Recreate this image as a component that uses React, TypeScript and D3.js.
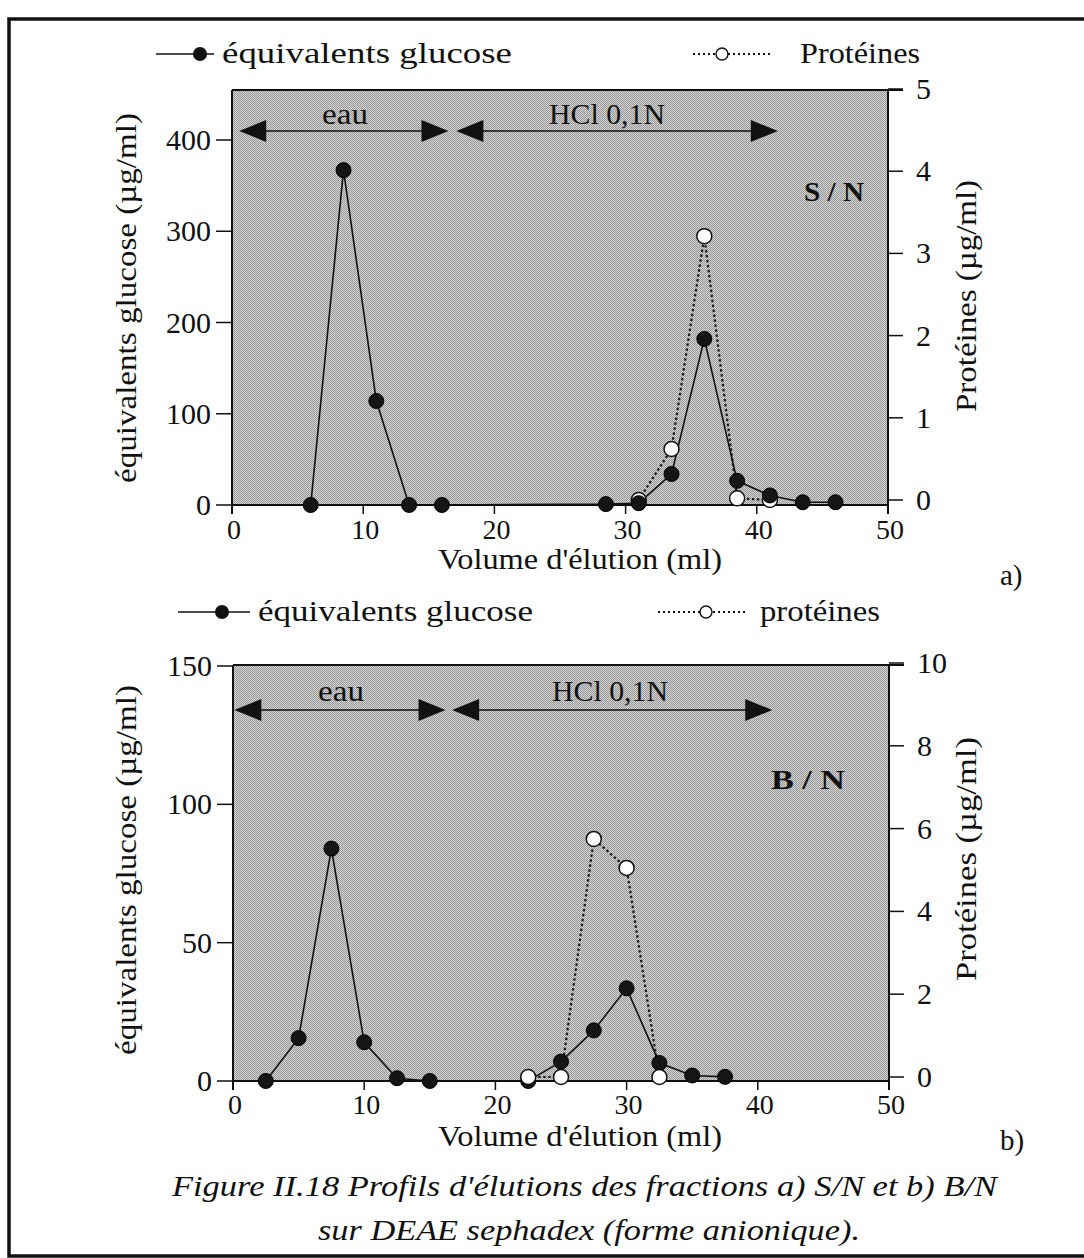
import React from 'react';
import * as d3 from 'd3';

// ---------- data ----------
const xTickValues = [0, 10, 20, 30, 40, 50];

// Panel a) S/N
const volumeGlucoseA = [6, 8.5, 11, 13.5, 16, 28.5, 31, 33.5, 36, 38.5, 41, 43.5, 46];
const glucoseA = [0, 367, 114, 0, 0, 1, 2, 34, 182, 26.5, 10.5, 3, 3];
const volumeProteinA = [31, 33.5, 36, 38.5, 41];
const proteinA = [0, 0.62, 3.21, 0.02, 0];
const glucoseTicksA = [0, 100, 200, 300, 400];
const proteinTicksA = [0, 1, 2, 3, 4, 5];
const eauRangeA = [0.55, 16.5];
const hclRangeA = [17.1, 41.6];

// Panel b) B/N
const volumeGlucoseB = [2.5, 5, 7.5, 10, 12.5, 15, 22.5, 25, 27.5, 30, 32.5, 35, 37.5];
const glucoseB = [0, 15.5, 84, 14, 1, 0, 0, 7, 18.3, 33.5, 6.5, 2, 1.5];
const volumeProteinB = [22.5, 25, 27.5, 30, 32.5];
const proteinB = [0, 0, 5.75, 5.05, 0];
const glucoseTicksB = [0, 50, 100, 150];
const proteinTicksB = [0, 2, 4, 6, 8, 10];
const eauRangeB = [0.1, 16.2];
const hclRangeB = [16.7, 41.1];

const FONT = 'Liberation Serif, Tinos, Times New Roman, Times, serif';

type PanelCfg = {
  x0: number; x1: number; top: number; bottom: number;
  leftMax: number; leftMaxPx: number;
  rightMax: number; rightZeroPx: number; rightMaxPx: number;
  vg: number[]; g: number[]; vp: number[]; p: number[];
  gTicks: number[]; pTicks: number[];
  eau: number[]; hcl: number[];
  arrowY: number; labelY: number; eauX: number; hclX: number;
  tag: string; tagX: number; tagY: number; tagW: number;
  openOnTop: boolean;
  letter: string; letterY: number;
  xLabelY: number; xTickLabelY: number;
  leftLabelCY: number; rightLabelCY: number; rightLabelW: number;
};

const txt = { fontFamily: FONT, fill: '#111' } as const;

function Arrow({ x1, x2, y }: { x1: number; x2: number; y: number }) {
  const L = 27, H = 11;
  return (
    <g>
      <line x1={x1 + 5} x2={x2 - 5} y1={y} y2={y} stroke="#111" strokeWidth={1.6} />
      <path d={`M${x1},${y} L${x1 + L},${y - H} L${x1 + L},${y + H} Z`} fill="#111" />
      <path d={`M${x2},${y} L${x2 - L},${y - H} L${x2 - L},${y + H} Z`} fill="#111" />
    </g>
  );
}

function Panel({ c }: { c: PanelCfg }) {
  const x = d3.scaleLinear().domain([0, 50]).range([c.x0, c.x1]);
  const yL = d3.scaleLinear().domain([0, c.leftMax]).range([c.bottom, c.leftMaxPx]);
  const yR = d3.scaleLinear().domain([0, c.rightMax]).range([c.rightZeroPx, c.rightMaxPx]);

  const gPts = c.vg.map((v, i) => [x(v), yL(c.g[i])] as [number, number]);
  const pPts = c.vp.map((v, i) => [x(v), yR(c.p[i])] as [number, number]);
  const line = d3.line();

  const filled = gPts.map((d, i) => (
    <circle key={'f' + i} cx={d[0]} cy={d[1]} r={7.5} fill="#151515" stroke="#000" strokeWidth={1} />
  ));
  const open = pPts.map((d, i) => (
    <circle key={'o' + i} cx={d[0]} cy={d[1]} r={7.5} fill="#fff" stroke="#111" strokeWidth={1.5} />
  ));

  return (
    <g>
      <rect x={c.x0} y={c.top} width={c.x1 - c.x0} height={c.bottom - c.top} fill="url(#stipple)" />
      <line x1={c.x0} x2={c.x1 + 15} y1={c.top} y2={c.top} stroke="#111" strokeWidth={2} />
      <line x1={c.x0} x2={c.x1} y1={c.bottom} y2={c.bottom} stroke="#111" strokeWidth={2} />
      <line x1={c.x0} x2={c.x0} y1={c.top} y2={c.bottom + 9} stroke="#111" strokeWidth={2} />
      <line x1={c.x1} x2={c.x1} y1={c.top} y2={c.bottom + 9} stroke="#111" strokeWidth={2} />
      {xTickValues.map((t) => (
        <g key={'xt' + t}>
          <line x1={x(t)} x2={x(t)} y1={c.bottom} y2={c.bottom + 9} stroke="#111" strokeWidth={1.5} />
          <text x={x(t) + 2} y={c.xTickLabelY} textAnchor="middle" fontSize={28} {...txt}>{t}</text>
        </g>
      ))}
      {c.gTicks.map((t) => (
        <g key={'lt' + t}>
          <line x1={c.x0 - 16} x2={c.x0} y1={yL(t)} y2={yL(t)} stroke="#111" strokeWidth={1.5} />
          <text x={c.x0 - 21} y={yL(t) + 10} textAnchor="end" fontSize={30} {...txt}>{t}</text>
        </g>
      ))}
      {c.pTicks.map((t) => (
        <g key={'rt' + t}>
          <line x1={c.x1} x2={c.x1 + 15} y1={yR(t)} y2={yR(t)} stroke="#111" strokeWidth={1.5} />
          <text x={c.x1 + 28} y={yR(t) + 10} textAnchor="start" fontSize={30} {...txt}>{t}</text>
        </g>
      ))}
      <text x={580} y={c.xLabelY} textAnchor="middle" fontSize={29} {...txt}
        textLength={284} lengthAdjust="spacingAndGlyphs">Volume d'élution (ml)</text>
      <text transform={`translate(136,${c.leftLabelCY}) rotate(-90)`} textAnchor="middle" fontSize={30}
        {...txt} textLength={370} lengthAdjust="spacingAndGlyphs">équivalents glucose (µg/ml)</text>
      <text transform={`translate(976,${c.rightLabelCY}) rotate(-90)`} textAnchor="middle" fontSize={30}
        {...txt} textLength={c.rightLabelW} lengthAdjust="spacingAndGlyphs">Protéines (µg/ml)</text>
      <text x={1000} y={c.letterY} fontSize={29} {...txt}>{c.letter}</text>
      <Arrow x1={x(c.eau[0])} x2={x(c.eau[1])} y={c.arrowY} />
      <Arrow x1={x(c.hcl[0])} x2={x(c.hcl[1])} y={c.arrowY} />
      <text x={c.eauX} y={c.labelY} textAnchor="middle" fontSize={29} {...txt}
        textLength={46} lengthAdjust="spacingAndGlyphs">eau</text>
      <text x={c.hclX} y={c.labelY} textAnchor="middle" fontSize={29} {...txt}
        textLength={116} lengthAdjust="spacingAndGlyphs">HCl 0,1N</text>
      <text x={c.tagX} y={c.tagY} fontSize={28} fontWeight="bold" {...txt}
        textLength={c.tagW} lengthAdjust="spacingAndGlyphs">{c.tag}</text>
      <path d={line(pPts) || ''} fill="none" stroke="#1a1a1a" strokeWidth={2.2} strokeDasharray="2.5 2.5" />
      <path d={line(gPts) || ''} fill="none" stroke="#111" strokeWidth={1.6} />
      {c.openOnTop ? <g>{filled}{open}</g> : <g>{open}{filled}</g>}
    </g>
  );
}

function Legend({ y, lineX1, lineX2, dotX, textX, textW, label, filled }:
  { y: number; lineX1: number; lineX2: number; dotX: number; textX: number; textW: number; label: string; filled: boolean }) {
  return (
    <g>
      <line x1={lineX1} x2={lineX2} y1={y} y2={y} stroke="#111" strokeWidth={filled ? 1.6 : 2}
        strokeDasharray={filled ? undefined : '2 3'} />
      {filled
        ? <circle cx={dotX} cy={y} r={7} fill="#111" />
        : <circle cx={dotX} cy={y} r={6} fill="#fff" stroke="#111" strokeWidth={1.4} />}
      <text x={textX} y={y + 9} fontSize={30} {...txt}
        textLength={textW} lengthAdjust="spacingAndGlyphs">{label}</text>
    </g>
  );
}

const panelA: PanelCfg = {
  x0: 232, x1: 888, top: 90, bottom: 505,
  leftMax: 400, leftMaxPx: 140, rightMax: 5, rightZeroPx: 500, rightMaxPx: 89,
  vg: volumeGlucoseA, g: glucoseA, vp: volumeProteinA, p: proteinA,
  gTicks: glucoseTicksA, pTicks: proteinTicksA, eau: eauRangeA, hcl: hclRangeA,
  arrowY: 131, labelY: 124, eauX: 345, hclX: 607,
  tag: 'S / N', tagX: 804, tagY: 201, tagW: 60, openOnTop: false,
  letter: 'a)', letterY: 585, xLabelY: 569, xTickLabelY: 539,
  leftLabelCY: 298, rightLabelCY: 296, rightLabelW: 232,
};

const panelB: PanelCfg = {
  x0: 233, x1: 889, top: 665, bottom: 1081,
  leftMax: 150, leftMaxPx: 666, rightMax: 10, rightZeroPx: 1077, rightMaxPx: 663,
  vg: volumeGlucoseB, g: glucoseB, vp: volumeProteinB, p: proteinB,
  gTicks: glucoseTicksB, pTicks: proteinTicksB, eau: eauRangeB, hcl: hclRangeB,
  arrowY: 710, labelY: 701, eauX: 341, hclX: 610,
  tag: 'B / N', tagX: 771, tagY: 789, tagW: 74, openOnTop: true,
  letter: 'b)', letterY: 1150, xLabelY: 1146, xTickLabelY: 1114,
  leftLabelCY: 870, rightLabelCY: 859, rightLabelW: 244,
};

export default function App() {
  return (
    <svg width={1084} height={1258} style={{ position: 'absolute', left: 0, top: 0, background: '#fff' }}>
      <defs>
        <pattern id="stipple" width={2} height={2} patternUnits="userSpaceOnUse">
          <rect width={2} height={2} fill="#d4d4d4" />
          <rect width={1} height={1} fill="#979797" />
          <rect x={1} y={1} width={1} height={1} fill="#979797" />
        </pattern>
      </defs>
      <rect x={0} y={0} width={1084} height={1258} fill="#fff" />
      <rect x={9} y={19} width={1090} height={1237} fill="none" stroke="#111" strokeWidth={3.5} />

      <Legend y={54} lineX1={156} lineX2={214} dotX={200} textX={222} textW={290} label="équivalents glucose" filled />
      <Legend y={54} lineX1={693} lineX2={770} dotX={722} textX={800} textW={120} label="Protéines" filled={false} />
      <Panel c={panelA} />

      <Legend y={612} lineX1={178} lineX2={250} dotX={222} textX={258} textW={275} label="équivalents glucose" filled />
      <Legend y={612} lineX1={658} lineX2={748} dotX={706} textX={760} textW={120} label="protéines" filled={false} />
      <Panel c={panelB} />

      <text x={172} y={1196} fontSize={30} fontStyle="italic" {...txt}
        textLength={825} lengthAdjust="spacingAndGlyphs">Figure II.18 Profils d'élutions des fractions a) S/N et b) B/N</text>
      <text x={318} y={1240} fontSize={30} fontStyle="italic" {...txt}
        textLength={542} lengthAdjust="spacingAndGlyphs">sur DEAE sephadex (forme anionique).</text>
    </svg>
  );
}
